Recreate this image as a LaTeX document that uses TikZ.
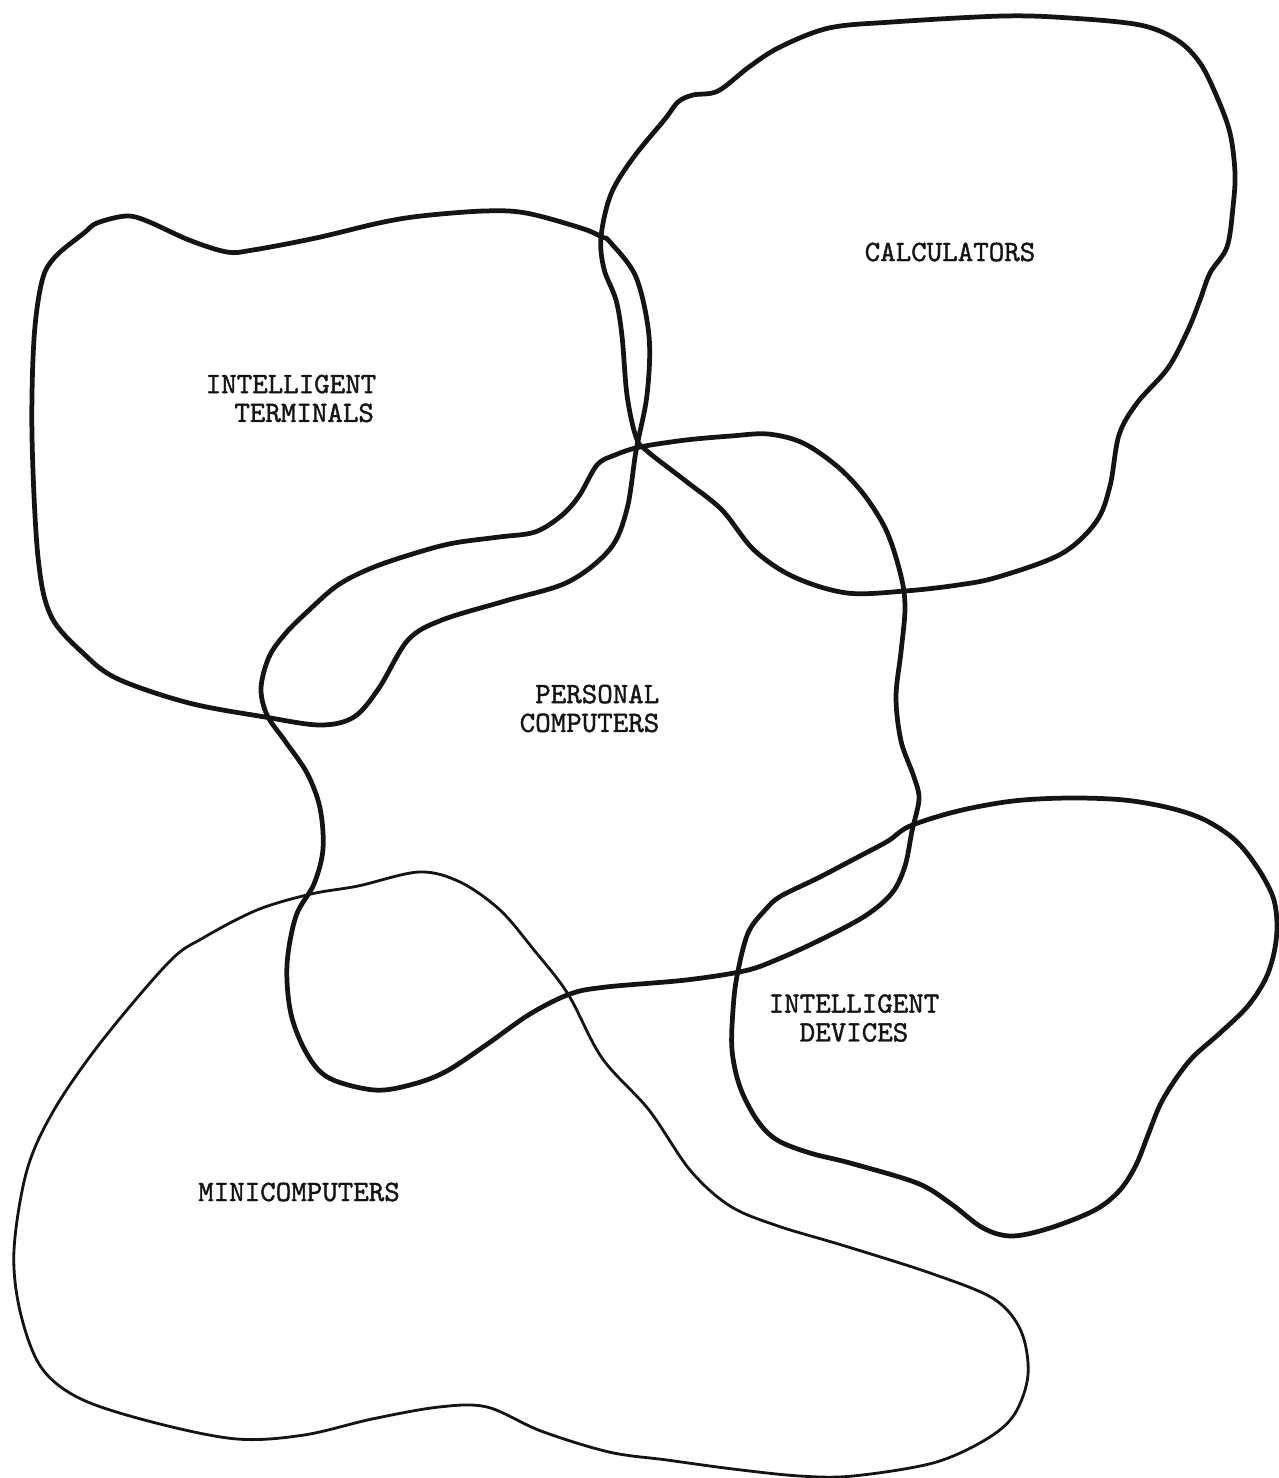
\documentclass[tikz,border=0pt]{standalone}
\usepackage{fontspec}
\usepackage{tikz}
\usetikzlibrary{positioning}
\newfontfamily\typefont{lmmono10-regular.otf}[BoldFont=lmmono10-regular.otf,BoldFeatures={FakeBold=1.3}]
\definecolor{inkc}{RGB}{20,20,20}

\tikzset{
  blob/.style={draw=inkc,line width=1.35pt,line join=round},
  thinblob/.style={draw=inkc,line width=0.8pt,line join=round},
  lab/.style={font=\typefont\bfseries\fontsize{8.4}{8.2}\selectfont,text=inkc,inner sep=0pt}
}

\begin{document}
\begin{tikzpicture}[x=0.01cm,y=-0.01cm]
\useasboundingbox (0,0) rectangle (1278,1478);

% calculators
\draw[blob] plot[smooth cycle,tension=0.55] coordinates {
  (601,237) (611,194) (633,158) (665,119) (678,102) (693,95) (718,91)
  (749,67) (780,47) (829,28) (892,22) (1003,16) (1070,18) (1140,25)
  (1177,40) (1200,63) (1217,97) (1230,133) (1235,173) (1233,207)
  (1227,247) (1210,273) (1200,300) (1188,330) (1168,368) (1137,403)
  (1119,435) (1110,486) (1096,522) (1061,554) (998,577) (958,585)
  (905,591) (847,593) (794,577) (754,550) (722,510) (687,482)
  (647,451) (636,437) (627,395) (622,336) (616,300) (604,269)};

% intelligent terminals
\draw[blob] plot[smooth cycle,tension=0.55] coordinates {
  (602,237) (581,228) (526,213) (484,211) (421,216) (379,223) (316,238)
  (253,250) (227,252) (189,240) (147,221) (126,216) (97,223) (84,233)
  (55,257) (42,281) (34,339) (32,436) (38,557) (51,616) (84,654)
  (118,679) (189,703) (265,717) (320,725) (354,717) (379,688)
  (408,640) (442,620) (505,601) (568,582) (610,549) (627,509)
  (636,451) (647,395) (649,336) (636,277) (610,242)};

% personal computers
\draw[blob] plot[smooth cycle,tension=0.55] coordinates {
  (640,447) (686,440) (731,436) (768,434) (803,443) (838,467) (865,496)
  (887,532) (901,576) (905,608) (901,652) (896,697) (901,741) (914,777)
  (919,799) (912,831) (905,866) (892,893) (865,916) (820,940) (776,960)
  (744,971) (686,980) (606,987) (570,994) (530,1014) (486,1045)
  (445,1072) (410,1085) (374,1090) (329,1078) (307,1054) (291,1014)
  (287,965) (296,916) (314,884) (323,849) (320,808) (307,773)
  (285,741) (267,715) (261,688) (269,657) (285,634) (307,612)
  (338,585) (374,567) (419,552) (454,543) (499,537) (535,532)
  (561,516) (579,496) (597,465) (615,455)};

% intelligent devices
\draw[blob] plot[smooth cycle,tension=0.55] coordinates {
  (910,826) (958,811) (1013,801) (1069,798) (1124,800) (1170,808)
  (1205,820) (1235,840) (1257,867) (1273,897) (1277,925) (1274,953)
  (1265,980) (1247,1007) (1220,1033) (1193,1057) (1175,1080)
  (1160,1105) (1148,1135) (1136,1165) (1120,1190) (1095,1210)
  (1050,1228) (1012,1236) (983,1228) (950,1203) (917,1183)
  (850,1163) (810,1153) (777,1140) (757,1120) (740,1087) (732,1050)
  (733,1010) (737,976) (748,933) (766,909) (781,896) (818,878)
  (858,857) (888,841)};

% minicomputers
\draw[thinblob] plot[smooth cycle,tension=0.55] coordinates {
  (311,894) (358,886) (419,872) (460,882) (500,910) (534,950) (568,994)
  (602,1058) (649,1110) (690,1170) (730,1206) (778,1226) (845,1246)
  (933,1274) (994,1299) (1021,1331) (1028,1375) (1014,1415) (985,1440)
  (933,1463) (853,1476) (800,1476) (733,1469) (667,1460) (609,1452)
  (541,1431) (487,1407) (439,1407) (372,1419) (304,1435) (237,1439)
  (156,1423) (81,1399) (41,1367) (20,1311) (14,1250) (27,1170)
  (54,1110) (101,1042) (169,962) (203,938) (257,910)};

% labels
\node[lab,align=left,anchor=north west] (terms) at (205,374)
  {INTELLIGENT\\\hspace*{2.25ex}TERMINALS};
\node[lab] (calcs) at (950,252) {CALCULATORS};
\node[lab,align=right,anchor=north east] (pcs) at (660,684)
  {PERSONAL\\COMPUTERS};
\node[lab,align=center] (devs) at (854,1018)
  {INTELLIGENT\\DEVICES};
\node[lab] (minis) at (299,1192) {MINICOMPUTERS};

\end{tikzpicture}
\end{document}
